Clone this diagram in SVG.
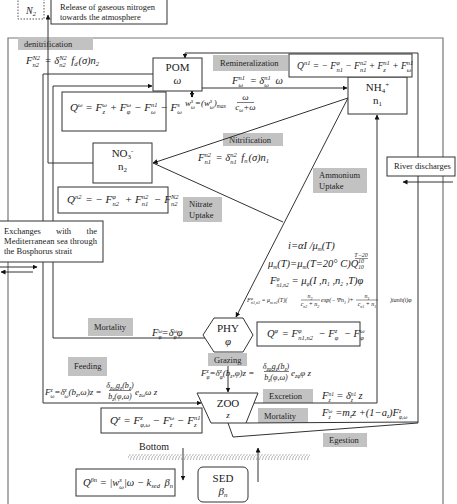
<svg xmlns="http://www.w3.org/2000/svg" width="457" height="504" viewBox="0 0 457 504">
<style>
.t{font-family:"Liberation Serif","Times New Roman",serif;fill:#1a1a1a}
.i{font-style:italic}
.box{fill:#fff;stroke:#333;stroke-width:1}
.lb{fill:#c2c2c2}
.ln{fill:none;stroke:#333;stroke-width:1}
.fr{fill:none;stroke:#777;stroke-width:1.2}
.eq{font-family:"Liberation Serif","Times New Roman",serif;font-style:italic;font-size:10.5px;fill:#1a1a1a}
.sm{font-size:6.5px}
.eq9{font-family:"Liberation Serif","Times New Roman",serif;font-style:italic;font-size:9px;fill:#1a1a1a}
.s9{font-size:5.5px}
.eq6{font-family:"Liberation Serif","Times New Roman",serif;font-style:italic;font-size:6px;fill:#1a1a1a}
.s4{font-size:4px}
.gl{font-family:"Liberation Serif","Times New Roman",serif;font-size:8.5px;fill:#222}
</style>
<defs>
<marker id="ah" viewBox="0 0 10 10" refX="9" refY="5" markerUnits="userSpaceOnUse" markerWidth="5" markerHeight="5" orient="auto"><path d="M0,0 L10,5 L0,10 z" fill="#111"/></marker>
<pattern id="hatch" width="3" height="6" patternUnits="userSpaceOnUse"><path d="M2.6,0 L0.6,6" stroke="#999" stroke-width="0.7"/></pattern>
</defs>

<path id="frame" class="fr" d="M8,504 V38 H443 V504"/>

<g id="labels">
<rect class="lb" x="18" y="37" width="75" height="13"/><text class="gl" x="24" y="47">denitrification</text>
<rect class="lb" x="213" y="55" width="75" height="16"/><text class="gl" x="220" y="66">Remineralization</text>
<rect class="lb" x="223" y="133" width="60" height="13"/><text class="gl" x="229" y="143">Nitrification</text>
<rect class="lb" x="313" y="168" width="54" height="25"/><text class="gl" x="319" y="178">Ammonium</text><text class="gl" x="319" y="189">Uptake</text>
<rect class="lb" x="183" y="197" width="39" height="25"/><text class="gl" x="189" y="207">Nitrate</text><text class="gl" x="189" y="218">Uptake</text>
<rect class="lb" x="88" y="318" width="45" height="18"/><text class="gl" x="94" y="330">Mortality</text>
<rect class="lb" x="68" y="357" width="39" height="19"/><text class="gl" x="74" y="369">Feeding</text>
<rect class="lb" x="208" y="353" width="39" height="13"/><text class="gl" x="214" y="363">Grazing</text>
<rect class="lb" x="263" y="389" width="50" height="14"/><text class="gl" x="269" y="399">Excretion</text>
<rect class="lb" x="258" y="408" width="50" height="15"/><text class="gl" x="264" y="419">Mortality</text>
<rect class="lb" x="323" y="433" width="44" height="14"/><text class="gl" x="329" y="443">Egestion</text>
</g>

<g id="connectors">
<path class="ln" d="M93,163 H48 V15" marker-end="url(#ah)"/>
<path class="ln" d="M153,74 H43 V403 H201" marker-end="url(#ah)"/>
<path class="ln" d="M205,338 H53 V86 H152" marker-end="url(#ah)"/>
<path class="ln" d="M202,88 H347" marker-end="url(#ah)"/>
<path class="ln" d="M348,98 L153,163" marker-end="url(#ah)"/>
<path class="ln" d="M153,163 L283,222"/>
<path class="ln" d="M348,98 L236,317" marker-end="url(#ah)"/>
<path class="ln" d="M254,403 H377 V115" marker-end="url(#ah)"/>
<path class="ln" d="M246,423 L418,422"/>
<path class="ln" d="M228,423 L233,437 L418,423"/>
<path class="ln" d="M418,423 V53 H185 V58" marker-end="url(#ah)"/>
<path class="ln" d="M453,182 H403" marker-end="url(#ah)"/>
<path class="ln" d="M0,267 H37" marker-end="url(#ah)"/>
<path class="ln" d="M33,272 H1" marker-end="url(#ah)"/>
<path class="ln" d="M228,366 V392" marker-end="url(#ah)"/>
<path d="M192,91 V97" stroke="#111" stroke-width="2" fill="none" marker-end="url(#ah)"/>
<path class="ln" stroke="#666" d="M183,448 V480" marker-end="url(#ah)"/>
<path class="ln" stroke="#666" d="M258,482 V448" marker-end="url(#ah)"/>
</g>

<g id="n2">
<rect x="18" y="-2" width="26" height="21" fill="#fff" stroke="#555" stroke-dasharray="1.5 1.5"/>
<text class="t i" x="31" y="14" font-size="10" text-anchor="middle">N<tspan font-size="6.5" dy="2">2</tspan></text>
</g>
<g id="release">
<rect class="box" x="51" y="-1" width="116" height="25"/>
<text class="t" x="60" y="10" font-size="8.5">Release of gaseous nitrogen</text>
<text class="t" x="60" y="20" font-size="8.5">towards the atmosphere</text>
</g>

<g id="pom">
<rect class="box" x="153" y="58" width="49" height="33"/>
<text class="t" x="177.5" y="71" font-size="11" text-anchor="middle">POM</text>
<text class="t i" x="177.5" y="84" font-size="11" text-anchor="middle">ω</text>
</g>
<g id="nh4">
<rect class="box" x="348" y="77" width="59" height="37"/>
<text class="t" x="377.5" y="91" font-size="11" text-anchor="middle">NH<tspan font-size="7" dy="2">4</tspan><tspan font-size="7" dy="-6">+</tspan></text>
<text class="t" x="377.5" y="104" font-size="11" text-anchor="middle">n<tspan font-size="7" dy="2">1</tspan></text>
</g>
<g id="no3">
<rect class="box" x="93" y="143" width="59" height="40"/>
<text class="t" x="122.5" y="157" font-size="11" text-anchor="middle">NO<tspan font-size="7" dy="2">3</tspan><tspan font-size="7" dy="-6">-</tspan></text>
<text class="t" x="122.5" y="170" font-size="11" text-anchor="middle">n<tspan font-size="7" dy="2">2</tspan></text>
</g>
<g id="phy">
<polygon class="box" points="203,335 214,318 243,318 253,335 243,352 214,352"/>
<text class="t" x="228" y="332" font-size="11" text-anchor="middle">PHY</text>
<text class="t i" x="228" y="345" font-size="11" text-anchor="middle">φ</text>
</g>
<g id="zoo">
<polygon class="box" points="197,393 258,393 246,423 211,423"/>
<text class="t" x="228" y="407" font-size="11" text-anchor="middle">ZOO</text>
<text class="t i" x="228" y="418" font-size="9" text-anchor="middle">z</text>
</g>
<g id="sed">
<rect class="box" x="198" y="467" width="50" height="35" rx="5"/>
<text class="t" x="223" y="482" font-size="11" text-anchor="middle">SED</text>
<text class="t i" x="223" y="495" font-size="11" text-anchor="middle">β<tspan font-size="7" dy="2">n</tspan></text>
</g>
<g id="river">
<rect class="box" x="387" y="157" width="68" height="19"/>
<text class="t" x="394" y="169" font-size="8.5">River discharges</text>
</g>
<g id="exchanges">
<rect class="box" x="-1" y="221" width="104" height="41"/>
<text class="t" x="4" y="234" font-size="8.5">Exchanges</text>
<text class="t" x="56" y="234" font-size="8.5">with</text>
<text class="t" x="97" y="234" font-size="8.5" text-anchor="end">the</text>
<text class="t" x="4" y="244" font-size="8.5" textLength="93" lengthAdjust="spacing">Mediterranean sea through</text>
<text class="t" x="4" y="254" font-size="8.5">the Bosphorus strait</text>
</g>

<g id="q-n1">
<rect class="box" x="289" y="54" width="123" height="23"/>
<text class="eq" x="297" y="69" style="font-size:9.5px">Q<tspan class="sm" dy="-4">n1</tspan><tspan dy="4"> = − F</tspan><tspan class="sm" dy="-4">φ</tspan><tspan class="sm" dx="-3.3" dy="7">n1</tspan><tspan dy="-3"> − F</tspan><tspan class="sm" dy="-4">n2</tspan><tspan class="sm" dx="-6.5" dy="7">n1</tspan><tspan dy="-3"> + F</tspan><tspan class="sm" dy="-4">n1</tspan><tspan class="sm" dx="-6.5" dy="7">z</tspan><tspan dx="4" dy="-3"> + F</tspan><tspan class="sm" dy="-4">n1</tspan><tspan class="sm" dx="-6.5" dy="7">ω</tspan></text>
</g>
<g id="q-om">
<rect class="box" x="62" y="92" width="104" height="39"/>
<text class="eq" x="70" y="111" style="font-size:11px">Q<tspan class="sm" dy="-4">ω</tspan><tspan dy="4"> = F</tspan><tspan class="sm" dy="-4">ω</tspan><tspan class="sm" dx="-4.4" dy="7">z</tspan><tspan dx="2" dy="-3"> + F</tspan><tspan class="sm" dy="-4">ω</tspan><tspan class="sm" dx="-4.4" dy="7">φ</tspan><tspan dx="1" dy="-3"> − F</tspan><tspan class="sm" dy="-4">n1</tspan><tspan class="sm" dx="-6.5" dy="7">ω</tspan><tspan dx="2" dy="-3"> − F</tspan><tspan class="sm" dy="-4">s</tspan><tspan class="sm" dx="-2.5" dy="7">ω</tspan></text>
</g>
<g id="q-n2">
<rect class="box" x="58" y="187" width="110" height="26"/>
<text class="eq" x="67" y="203" style="font-size:11px">Q<tspan class="sm" dy="-4">n2</tspan><tspan dx="1" dy="4"> = − F</tspan><tspan class="sm" dy="-4">φ</tspan><tspan class="sm" dx="-3.3" dy="7">n2</tspan><tspan dx="3" dy="-3"> + F</tspan><tspan class="sm" dy="-4">n2</tspan><tspan class="sm" dx="-6.5" dy="7">n1</tspan><tspan dx="3" dy="-3"> − F</tspan><tspan class="sm" dy="-4">N2</tspan><tspan class="sm" dx="-7.6" dy="7">n2</tspan></text>
</g>
<g id="q-phy">
<rect class="box" x="257" y="322" width="103" height="24"/>
<text class="eq" x="267" y="337">Q<tspan class="sm" dy="-4">φ</tspan><tspan dx="1" dy="4"> = F</tspan><tspan class="sm" dy="-4">φ</tspan><tspan class="sm" dx="-3.3" dy="7">n1,n2</tspan><tspan dx="3" dy="-3"> − F</tspan><tspan class="sm" dy="-4">z</tspan><tspan class="sm" dx="-2.5" dy="7">φ</tspan><tspan dx="3" dy="-3"> − F</tspan><tspan class="sm" dy="-4">ω</tspan><tspan class="sm" dx="-4.4" dy="7">φ</tspan></text>
</g>
<g id="q-zoo">
<rect class="box" x="101" y="408" width="101" height="25"/>
<text class="eq" x="110" y="424" style="font-size:11px">Q<tspan class="sm" dy="-4">z</tspan><tspan dy="4"> = F</tspan><tspan class="sm" dy="-4">z</tspan><tspan class="sm" dx="-2.5" dy="7">φ,ω</tspan><tspan dy="-3"> − F</tspan><tspan class="sm" dy="-4">ω</tspan><tspan class="sm" dx="-4.4" dy="7">z</tspan><tspan dx="2" dy="-3"> − F</tspan><tspan class="sm" dy="-4">n1</tspan><tspan class="sm" dx="-6.5" dy="7">z</tspan></text>
</g>
<g id="q-sed">
<rect class="box" x="76" y="469" width="99" height="27"/>
<text class="eq" x="83" y="486">Q<tspan class="sm" dy="-4">βn</tspan><tspan dy="4"> = |w</tspan><tspan class="sm" dy="-4">s</tspan><tspan class="sm" dx="-2.5" dy="7">ω</tspan><tspan dy="-3">|ω − k</tspan><tspan class="sm" dy="2">sed</tspan><tspan dx="2" dy="-2">  β</tspan><tspan class="sm" dy="2">n</tspan></text>
</g>

<g id="formulas">
<text class="eq" x="26" y="64">F<tspan class="sm" dy="-4">N2</tspan><tspan class="sm" dx="-7.6" dy="7">n2</tspan><tspan dx="3" dy="-3"> = δ</tspan><tspan class="sm" dy="-4">N2</tspan><tspan class="sm" dx="-7.6" dy="7">n2</tspan><tspan dx="3" dy="-3"> f</tspan><tspan class="sm" dy="2">d</tspan><tspan dx="1" dy="-2">(σ)n</tspan><tspan class="sm" dy="2">2</tspan></text>
<text class="eq" x="232" y="84">F<tspan class="sm" dy="-4">n1</tspan><tspan class="sm" dx="-6.5" dy="7">ω</tspan><tspan dx="4" dy="-3">  =  δ</tspan><tspan class="sm" dy="-4">n1</tspan><tspan class="sm" dx="-6.5" dy="7">ω</tspan><tspan dx="4" dy="-3"> ω</tspan></text>
<text class="eq9" x="185" y="106">w<tspan class="s9" dy="-3.5">s</tspan><tspan class="s9" dx="-2.2" dy="6">ω</tspan><tspan dy="-2.5">=(w</tspan><tspan class="s9" dy="-3.5">s</tspan><tspan class="s9" dx="-2.2" dy="6">ω</tspan><tspan dy="-2.5">)</tspan><tspan class="s9" dy="2">max</tspan></text>
<text class="eq9" x="245.5" y="100" text-anchor="middle">ω</text>
<path d="M237,102.5 H254" stroke="#222" stroke-width="0.6"/>
<text class="eq9" x="245.5" y="110" text-anchor="middle">c<tspan class="s9" dy="2">ω</tspan><tspan dy="-2">+ω</tspan></text>
<text class="eq" x="198" y="161">F<tspan class="sm" dy="-4">n2</tspan><tspan class="sm" dx="-6.5" dy="7">n1</tspan><tspan dx="2" dy="-3"> = δ</tspan><tspan class="sm" dy="-4">n2</tspan><tspan class="sm" dx="-6.5" dy="7">n1</tspan><tspan dx="2" dy="-3"> f</tspan><tspan class="sm" dy="2">n</tspan><tspan dx="1" dy="-2">(σ)n</tspan><tspan class="sm" dy="2">1</tspan></text>
<text class="eq" x="152" y="336">F<tspan class="s9" dy="-3.5">ω</tspan><tspan class="s9" dx="-3.8" dy="6">φ</tspan><tspan dy="-2.5">=δ</tspan><tspan class="s9" dy="-3.5">ω</tspan><tspan class="s9" dx="-3.8" dy="6">φ</tspan><tspan dy="-2.5">φ</tspan></text>

<text class="eq9" x="45" y="395">F<tspan class="s9" dy="-3.5">z</tspan><tspan class="s9" dx="-2.2" dy="6">ω</tspan><tspan dy="-2.5">=δ</tspan><tspan class="s9" dy="-3.5">z</tspan><tspan class="s9" dx="-2.2" dy="6">ω</tspan><tspan dy="-2.5">(b</tspan><tspan class="s9" dy="2">z</tspan><tspan dy="-2">,ω)z =</tspan></text>
<text class="eq9" x="120" y="387.5" text-anchor="middle" style="font-size:8px">δ<tspan class="s9" dy="2">zω</tspan><tspan dy="-2">g</tspan><tspan class="s9" dy="2">z</tspan><tspan dy="-2">(b</tspan><tspan class="s9" dy="2">z</tspan><tspan dy="-2">)</tspan></text>
<path d="M109,390.5 H131" stroke="#222" stroke-width="0.6"/>
<text class="eq9" x="120" y="398.5" text-anchor="middle" style="font-size:8px">b<tspan class="s9" dy="2">z</tspan><tspan dy="-2">(φ,ω)</tspan></text>
<text class="eq9" x="135" y="395">e<tspan class="s9" dy="2">zω</tspan><tspan dy="-2">ω z</tspan></text>

<text class="eq9" x="201" y="376">F<tspan class="s9" dy="-3.5">z</tspan><tspan class="s9" dx="-2.2" dy="6">φ</tspan><tspan dy="-2.5">=δ</tspan><tspan class="s9" dy="-3.5">z</tspan><tspan class="s9" dx="-2.2" dy="6">φ</tspan><tspan dy="-2.5">(b</tspan><tspan class="s9" dy="2">z</tspan><tspan dy="-2">,φ)z =</tspan></text>
<text class="eq9" x="276" y="368.5" text-anchor="middle" style="font-size:8px">δ<tspan class="s9" dy="2">zφ</tspan><tspan dy="-2">g</tspan><tspan class="s9" dy="2">z</tspan><tspan dy="-2">(b</tspan><tspan class="s9" dy="2">z</tspan><tspan dy="-2">)</tspan></text>
<path d="M264,371.5 H289" stroke="#222" stroke-width="0.6"/>
<text class="eq9" x="276" y="379.5" text-anchor="middle" style="font-size:8px">b<tspan class="s9" dy="2">z</tspan><tspan dy="-2">(φ,ω)</tspan></text>
<text class="eq9" x="291" y="376">e<tspan class="s9" dy="2">zφ</tspan><tspan dy="-2">φ z</tspan></text>

<text class="eq" x="322" y="399">F<tspan class="s9" dy="-3.5">n1</tspan><tspan class="s9" dx="-5.5" dy="6">z</tspan><tspan dx="3" dy="-2.5">  =  δ</tspan><tspan class="s9" dy="-3.5">n1</tspan><tspan class="s9" dx="-5.5" dy="6">z</tspan><tspan dx="3" dy="-2.5">  z</tspan></text>
<text class="eq" x="322" y="416">F<tspan class="s9" dy="-3.5">ω</tspan><tspan class="s9" dx="-3.8" dy="6">z</tspan><tspan dx="2" dy="-2.5"> =m</tspan><tspan class="s9" dy="2">z</tspan><tspan dy="-2">z +(1−a</tspan><tspan class="s9" dy="2">z</tspan><tspan dy="-2">)F</tspan><tspan class="s9" dy="-3.5">z</tspan><tspan class="s9" dx="-2.2" dy="6">φ,ω</tspan></text>

<text class="eq" x="288" y="249">i=αI /μ<tspan class="s9" dy="2">m</tspan><tspan dy="-2">(T)</tspan></text>
<text class="eq" x="268" y="267">μ<tspan class="s9" dy="2">m</tspan><tspan dy="-2">(T)=μ</tspan><tspan class="s9" dy="2">m</tspan><tspan dy="-2">(T=20° C)Q</tspan><tspan class="s9" dy="2">10</tspan></text>
<text class="eq6" x="361" y="257" text-anchor="middle">T−20</text>
<path d="M355,258.5 H368" stroke="#222" stroke-width="0.5"/>
<text class="eq6" x="361" y="263" text-anchor="middle">10</text>
<text class="eq" x="270" y="284">F<tspan class="s9" dy="-3.5">φ</tspan><tspan class="s9" dx="-3" dy="6">n1,n2</tspan><tspan dy="-2.5"> = μ</tspan><tspan class="s9" dy="2">φ</tspan><tspan dy="-2">(I ,n</tspan><tspan class="s9" dy="2">1</tspan><tspan dy="-2"> ,n</tspan><tspan class="s9" dy="2">2</tspan><tspan dy="-2"> ,T)φ</tspan></text>

<text class="eq6" x="247" y="302">F<tspan class="s4" dy="-2.5">φ</tspan><tspan class="s4" dx="-2" dy="4.5">n1,n2</tspan><tspan dy="-2"> = μ</tspan><tspan class="s4" dy="1.5">m n1</tspan><tspan dy="-1.5">(T)(</tspan></text>
<text class="eq6" x="310" y="298" text-anchor="middle">n<tspan class="s4" dy="1.5">2</tspan></text>
<path d="M301,300 H320" stroke="#222" stroke-width="0.5"/>
<text class="eq6" x="310" y="306" text-anchor="middle">c<tspan class="s4" dy="1.5">n2</tspan><tspan dy="-1.5"> + n</tspan><tspan class="s4" dy="1.5">2</tspan></text>
<text class="eq6" x="321" y="302">exp(− Ψn<tspan class="s4" dy="1.5">1</tspan><tspan dy="-1.5"> )+</tspan></text>
<text class="eq6" x="367" y="298" text-anchor="middle">n<tspan class="s4" dy="1.5">1</tspan></text>
<path d="M356,300 H378" stroke="#222" stroke-width="0.5"/>
<text class="eq6" x="367" y="306" text-anchor="middle">c<tspan class="s4" dy="1.5">n1</tspan><tspan dy="-1.5"> + n</tspan><tspan class="s4" dy="1.5">1</tspan></text>
<text class="eq6" x="390" y="302">)tanh(i)φ</text>
</g>

<g id="bottom">
<text class="t" x="139" y="450" font-size="10">Bottom</text>
<rect x="128" y="454" width="182" height="6" fill="url(#hatch)"/>
</g>
</svg>
